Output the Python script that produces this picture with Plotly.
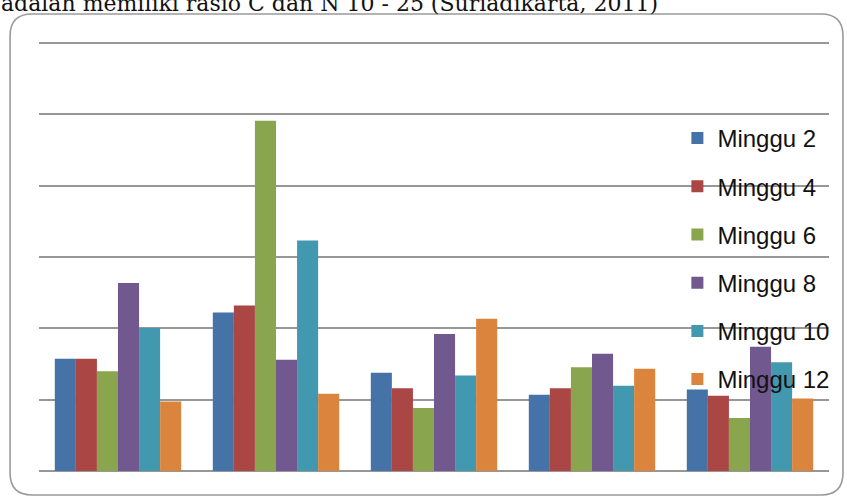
import plotly.graph_objects as go

# Sample groups (five treatments) and weekly C/N measurements
categories = ["P1", "P2", "P3", "P4", "P5"]
series_names = ["Minggu 2", "Minggu 4", "Minggu 6", "Minggu 8", "Minggu 10", "Minggu 12"]
minggu_2 = [7.87, 11.12, 6.89, 5.35, 5.72]
minggu_4 = [7.87, 11.61, 5.80, 5.80, 5.28]
minggu_6 = [6.99, 24.55, 4.42, 7.27, 3.71]
minggu_8 = [13.18, 7.80, 9.60, 8.22, 8.71]
minggu_10 = [10.02, 16.17, 6.70, 5.98, 7.62]
minggu_12 = [4.88, 5.42, 10.68, 7.17, 5.09]
series_values = [minggu_2, minggu_4, minggu_6, minggu_8, minggu_10, minggu_12]
colors = ["#4572A7", "#AA4643", "#89A54E", "#71588F", "#4198AF", "#DB843D"]
y_max = 30.5
y_step = 5

W, H = 847, 496
ML, MR, MT, MB = 39, 16, 36, 25
PW, PH = W - ML - MR, H - MT - MB


def px(x):
    return (x - ML) / PW


def py(y):
    return (H - MB - y) / PH


fig = go.Figure()
for i, (name, vals) in enumerate(zip(series_names, series_values)):
    fig.add_trace(go.Bar(
        x=categories, y=vals, name=name, legendgroup=name,
        marker=dict(color=colors[i], line=dict(width=0)),
    ))

# Rounded frame around the chart area
x0, x1, y0, y1, r = 10, 845, 14, 495, 22
path = (
    f"M {px(x0 + r)},{py(y0)} L {px(x1 - r)},{py(y0)} "
    f"Q {px(x1)},{py(y0)} {px(x1)},{py(y0 + r)} "
    f"L {px(x1)},{py(y1 - r)} Q {px(x1)},{py(y1)} {px(x1 - r)},{py(y1)} "
    f"L {px(x0 + r)},{py(y1)} Q {px(x0)},{py(y1)} {px(x0)},{py(y1 - r)} "
    f"L {px(x0)},{py(y0 + r)} Q {px(x0)},{py(y0)} {px(x0 + r)},{py(y0)} Z"
)
fig.add_shape(type="path", path=path, xref="paper", yref="paper",
              line=dict(color="#9a9a9a", width=1.6), layer="below")

fig.add_annotation(
    text="adalah memiliki rasio C dan N 10 - 25 (Suriadikarta, 2011)",
    xref="paper", yref="paper", x=px(-1), y=py(18), xanchor="left", yanchor="bottom",
    showarrow=False, font=dict(family="DejaVu Serif", size=22, color="#111111"),
)

fig.update_layout(
    width=W, height=H,
    margin=dict(l=ML, r=MR, t=MT, b=MB),
    paper_bgcolor="white", plot_bgcolor="white",
    barmode="group", bargap=0.2, bargroupgap=0,
    showlegend=True,
    legend=dict(
        x=px(679), y=py(116), xanchor="left", yanchor="top",
        bgcolor="rgba(0,0,0,0)", tracegroupgap=14,
        font=dict(family="Liberation Sans", size=24, color="#111111"),
    ),
    xaxis=dict(showticklabels=False, showgrid=False, zeroline=False, showline=False,
               ticks=""),
    yaxis=dict(range=[0, y_max], dtick=y_step, showticklabels=False, showgrid=True,
               gridcolor="#979797", gridwidth=1.6, zeroline=True,
               zerolinecolor="#979797", zerolinewidth=1.6, showline=False, ticks=""),
)

fig.write_html("out.html")
